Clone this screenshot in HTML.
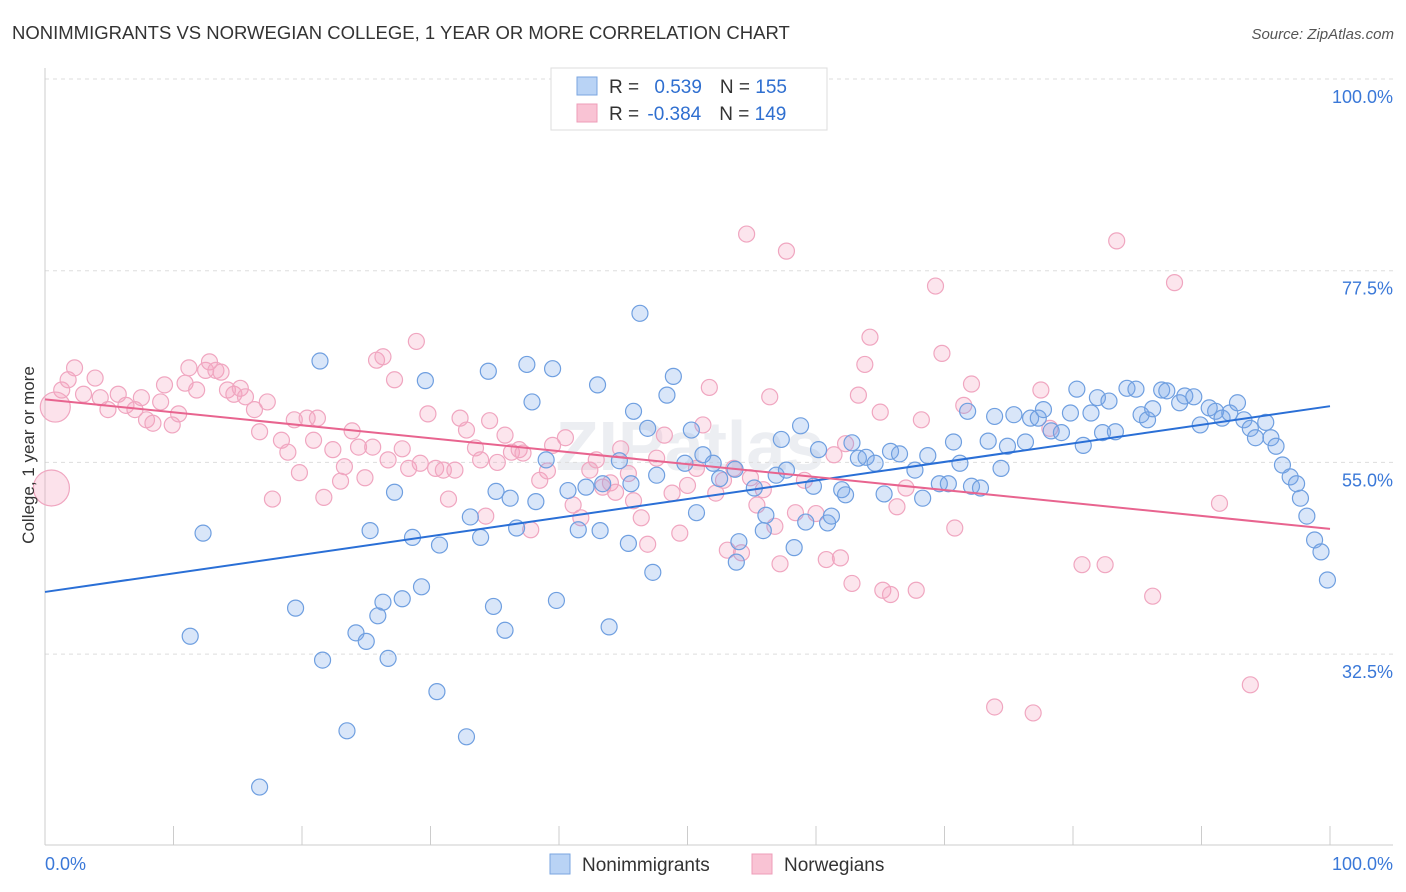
<!DOCTYPE html>
<html><head><meta charset="utf-8">
<style>
body{margin:0;background:#fff;font-family:"Liberation Sans",sans-serif;}
svg{display:block}
</style></head><body>
<svg id="chart" width="1406" height="892" xmlns="http://www.w3.org/2000/svg">
<text x="12" y="39" font-size="18.5" fill="#333">NONIMMIGRANTS VS NORWEGIAN COLLEGE, 1 YEAR OR MORE CORRELATION CHART</text>
<text x="1394" y="39" font-size="15" fill="#555" font-style="italic" text-anchor="end">Source: ZipAtlas.com</text>
<text x="690" y="470" font-size="70" fill="#eceef2" text-anchor="middle" font-weight="bold">ZIPatlas</text>
<g id="grid"></g>
<g id="axes"></g>
<g id="pts"></g>
<g id="trend"></g>
<text x="34" y="455" font-size="17" fill="#333" text-anchor="middle" transform="rotate(-90 34 455)">College, 1 year or more</text>
<g>
<rect x="551" y="68" width="276" height="62" fill="#fff" stroke="#ddd"/>
<rect x="577" y="77" width="20" height="18" fill="#b9d3f5" stroke="#7aa6e0"/>
<rect x="577" y="104" width="20" height="18" fill="#f9c3d4" stroke="#ee9cb8"/>
<text x="609" y="93" font-size="19" fill="#333">R = <tspan fill="#2f6fd0" dx="10">0.539</tspan><tspan fill="#333" dx="18">N = </tspan><tspan fill="#2f6fd0">155</tspan></text>
<text x="609" y="120" font-size="19" fill="#333">R = <tspan fill="#2f6fd0" dx="3">-0.384</tspan><tspan fill="#333" dx="18">N = </tspan><tspan fill="#2f6fd0">149</tspan></text>
</g>
<g>
<rect x="550" y="854" width="20" height="20" fill="#b9d3f5" stroke="#7aa6e0"/>
<text x="582" y="871" font-size="19" fill="#333">Nonimmigrants</text>
<rect x="752" y="854" width="20" height="20" fill="#f9c3d4" stroke="#ee9cb8"/>
<text x="784" y="871" font-size="19" fill="#333">Norwegians</text>
</g>
</svg>
<script>
const yTicks=[100,77.5,55,32.5];
const yTickLabels=["100.0%","77.5%","55.0%","32.5%"];
const xTickVals=[0,10,20,30,40,50,60,70,80,90,100];
const blueX=[12.3,11.3,19.5,21.6,23.5,16.7,24.2,25,25.9,26.3,26.7,27.8,29.3,30.5,32.8,27.2,25.3,28.6,30.7,33.1,33.9,34.9,35.8,35.1,36.2,36.7,38.2,39.8,41.5,43.2,43.9,45.4,47.3,21.4,29.6,34.5,37.5,39.5,37.9,43,46.3,45.8,48.4,48.9,46.9,50.3,39,40.7,42.1,43.4,44.7,45.6,47.6,49.8,50.7,51.2,52,52.5,53.7,54,53.8,55.2,56.1,55.9,56.9,57.3,57.7,58.8,59.2,59.8,58.3,60.9,61.2,60.2,62,62.3,62.8,63.3,63.9,64.6,65.3,65.8,66.5,67.7,68.3,68.7,69.6,70.3,70.7,71.2,71.8,72.1,72.8,73.4,73.9,74.4,74.9,75.4,76.3,76.7,77.3,77.7,78.3,79.1,79.8,80.3,80.8,81.4,81.9,82.3,82.8,83.3,84.2,84.9,85.3,85.8,86.2,86.9,87.3,88.3,88.7,89.4,89.9,90.6,91.1,91.6,92.2,92.8,93.3,93.8,94.2,95,95.4,95.8,96.3,96.9,97.4,97.7,98.2,98.8,99.3,99.8];
const blueY=[46.7,34.6,37.9,31.8,23.5,16.9,35,34,37,38.6,32,39,40.4,28.1,22.8,51.5,47,46.2,45.3,48.6,46.2,38.1,35.3,51.6,50.8,47.3,50.4,38.8,47.1,47,35.7,45.5,42.1,66.9,64.6,65.7,66.5,66,62.1,64.1,72.5,61,62.9,65.1,59,58.8,55.3,51.7,52.1,52.5,55.2,52.5,53.5,54.9,49.1,55.9,54.9,53.1,54.2,45.7,43.3,52,48.8,47,53.5,57.7,54.1,59.3,48,52.2,45,47.9,48.7,56.5,51.8,51.2,57.3,55.5,55.6,54.9,51.3,56.3,56,54.1,50.8,55.8,52.5,52.5,57.4,54.9,61,52.2,52,57.5,60.4,54.3,56.9,60.6,57.4,60.2,60.2,61.2,58.7,58.5,60.8,63.6,57,60.8,62.6,58.5,62.2,58.6,63.7,63.6,60.6,60,61.3,63.5,63.4,62,62.8,62.7,59.4,61.4,61,60.2,60.8,62,60,59,57.9,59.7,57.9,56.9,54.7,53.3,52.5,50.8,48.7,45.9,44.5,41.2];
const pinkX=[1.3,1.8,2.3,3,3.9,4.3,4.9,5.7,6.3,7,7.5,7.9,8.4,9,9.3,9.9,10.4,10.9,11.2,11.8,12.5,12.8,13.3,13.7,14.2,14.7,15.2,15.6,16.3,16.7,17.3,17.7,18.4,18.9,19.4,19.8,20.4,20.9,21.2,21.7,22.4,23,23.3,23.9,24.4,24.9,25.5,25.8,26.3,26.7,27.2,27.8,28.3,28.9,29.2,29.8,30.4,31,31.4,31.9,32.3,32.8,33.5,33.9,34.3,34.6,35.2,35.8,36.3,36.9,37.2,37.8,38.5,39.1,39.5,40.5,41.1,41.7,42.4,42.9,43.4,44,44.4,44.8,45.4,45.8,46.4,46.9,47.6,48.2,48.8,49.4,50,50.7,51.2,51.7,52.2,52.8,53.1,53.6,54.2,54.6,54.9,55.4,55.9,56.4,56.8,57.2,57.7,58.4,59.1,60,60.8,61.4,61.9,62.3,62.8,63.3,63.8,64.2,65,65.2,65.8,66.3,67,67.8,68.2,69.3,69.8,70.8,71.5,72.1,73.9,76.9,77.5,78.2,80.7,82.5,83.4,86.2,87.9,91.4,93.8];
const pinkY=[63.5,64.7,66.1,63,64.9,62.6,61.2,63,61.7,61.2,62.6,60,59.6,62.1,64.1,59.4,60.7,64.3,66.1,63.5,65.8,66.8,65.8,65.6,63.5,63,63.7,62.7,61.2,58.6,62.1,50.7,57.6,56.2,60,53.8,60.2,57.6,60.2,50.9,56.5,52.8,54.5,58.7,56.8,53.2,56.8,67,67.4,55.3,64.7,56.6,54.3,69.2,54.9,60.7,54.3,54.1,50.7,54.1,60.2,58.8,56.7,55.3,48.7,59.9,55,58.2,56.2,56.5,56.1,47.1,52.9,54,57,57.9,50,48.5,54.1,55.3,52.1,52.6,51.5,56.6,53.7,50.5,48.5,45.4,55.5,58.2,51.4,46.7,52.3,54.3,59.4,63.8,51.4,52.9,44.7,54.3,44.4,81.8,53.2,50,51.8,62.7,47.5,43.1,79.8,49.1,52.9,49,43.6,55.9,43.8,57.2,40.8,62.9,66.5,69.7,60.9,40,39.5,49.8,52,40,60,75.7,67.8,47.3,61.7,64.2,26.3,25.6,63.5,59,43,43,81,39.3,76.1,50.2,28.9];
const bigPinkX=[0.8,0.5];
const bigPinkY=[61.5,52];
const bigPinkR=[15,18];
const trendX=[0,100];
const blueTrendY=[39.8,61.6];
const pinkTrendY=[62.4,47.2];

const NS="http://www.w3.org/2000/svg";
const X0=45,X1=1330,YT=79,YB=845,VMIN=10.1,VMAX=100;
const sx=v=>X0+(X1-X0)*v/100;
const sy=v=>YT+(VMAX-v)/(VMAX-VMIN)*(YB-YT);
function mk(tag,attrs,parent){const e=document.createElementNS(NS,tag);for(const k in attrs)e.setAttribute(k,attrs[k]);parent.appendChild(e);return e;}
const grid=document.getElementById('grid'),axes=document.getElementById('axes'),pts=document.getElementById('pts'),trend=document.getElementById('trend');
yTicks.forEach((t,i)=>{
  const l=mk('line',{x1:X0,x2:1393,y1:sy(t),y2:sy(t),stroke:'#ddd','stroke-dasharray':'4,4'},grid);
  
  
  const tx=mk('text',{x:1393,y:sy(t)+24,'font-size':18,fill:'#3a78d8','text-anchor':'end'},axes);
  tx.textContent=yTickLabels[i];
  
  
});
const ax=mk('line',{x1:X0,x2:1393,y1:YB,y2:YB,stroke:'#ccc'},axes);


const ay=mk('line',{x1:X0,x2:X0,y1:68,y2:YB,stroke:'#ccc'},axes);


xTickVals.forEach(t=>{
  const tk=mk('line',{x1:sx(t),x2:sx(t),y1:826,y2:YB,stroke:'#ccc'},axes);
  
  
});
const xl0=mk('text',{x:45,y:870,'font-size':18,fill:'#3a78d8'},axes);xl0.textContent='0.0%';


const xl1=mk('text',{x:1393,y:870,'font-size':18,fill:'#3a78d8','text-anchor':'end'},axes);xl1.textContent='100.0%';


bigPinkX.forEach((v,i)=>{
  const c=mk('circle',{cx:sx(v),cy:sy(bigPinkY[i]),r:bigPinkR[i],fill:'rgba(244,160,190,0.3)',stroke:'#f0a6c0','stroke-width':1.2},pts);
  
  
});
pinkX.forEach((v,i)=>{
  const c=mk('circle',{cx:sx(v),cy:sy(pinkY[i]),r:8,fill:'rgba(244,160,190,0.28)',stroke:'#f0a6c0','stroke-width':1.2},pts);
  
  
});
blueX.forEach((v,i)=>{
  const c=mk('circle',{cx:sx(v),cy:sy(blueY[i]),r:8,fill:'rgba(120,165,235,0.28)',stroke:'#6f9fe0','stroke-width':1.2},pts);
  
  
});
const bl=mk('line',{x1:sx(trendX[0]),y1:sy(blueTrendY[0]),x2:sx(trendX[1]),y2:sy(blueTrendY[1]),stroke:'#2a6fd6','stroke-width':2},trend);


const pl=mk('line',{x1:sx(trendX[0]),y1:sy(pinkTrendY[0]),x2:sx(trendX[1]),y2:sy(pinkTrendY[1]),stroke:'#e8648f','stroke-width':2},trend);


</script>
</body></html>
